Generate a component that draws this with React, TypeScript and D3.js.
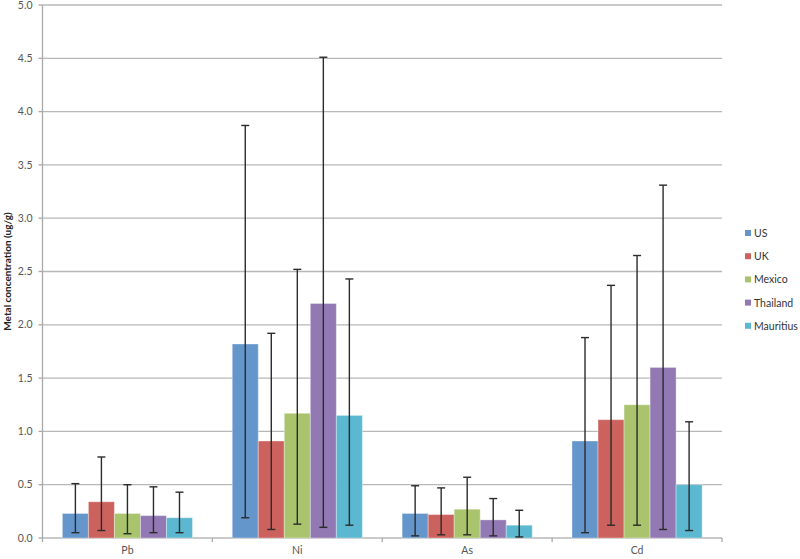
import React from 'react';
import { scaleBand, scaleLinear, range } from 'd3';

const metals = ['Pb', 'Ni', 'As', 'Cd'];
const countries = ['US', 'UK', 'Mexico', 'Thailand', 'Mauritius'];
const colors = ['#6496cb', '#cc625e', '#a9c46c', '#9279b3', '#5bb8d0'];

// mean values, one array per country, ordered like metals
const usValues = [0.23, 1.82, 0.23, 0.91];
const ukValues = [0.34, 0.91, 0.22, 1.11];
const mexicoValues = [0.23, 1.17, 0.27, 1.25];
const thailandValues = [0.21, 2.2, 0.17, 1.6];
const mauritiusValues = [0.19, 1.15, 0.12, 0.5];

// error bar ends (upper / lower)
const usUpper = [0.51, 3.87, 0.49, 1.88];
const usLower = [0.05, 0.19, 0.02, 0.05];
const ukUpper = [0.76, 1.92, 0.47, 2.37];
const ukLower = [0.07, 0.08, 0.03, 0.12];
const mexicoUpper = [0.5, 2.52, 0.57, 2.65];
const mexicoLower = [0.04, 0.13, 0.03, 0.12];
const thailandUpper = [0.48, 4.51, 0.37, 3.31];
const thailandLower = [0.05, 0.1, 0.02, 0.08];
const mauritiusUpper = [0.43, 2.43, 0.26, 1.09];
const mauritiusLower = [0.05, 0.12, 0.01, 0.07];

const values = [usValues, ukValues, mexicoValues, thailandValues, mauritiusValues];
const uppers = [usUpper, ukUpper, mexicoUpper, thailandUpper, mauritiusUpper];
const lowers = [usLower, ukLower, mexicoLower, thailandLower, mauritiusLower];

const yTicks = [0, 0.5, 1, 1.5, 2, 2.5, 3, 3.5, 4, 4.5, 5];

const App = () => {
    const width = 800;
    const height = 559;
    const margin = { top: 5, right: 78, bottom: 21, left: 42.5 };
    const plotRight = width - margin.right;
    const plotBottom = height - margin.bottom;

    const x = scaleBand<string>().domain(metals).range([margin.left, plotRight]);
    const inner = scaleBand<string>()
        .domain(countries)
        .range([x.bandwidth() * 0.117, x.bandwidth() * 0.883]);
    const y = scaleLinear().domain([0, 5]).range([plotBottom, margin.top]);

    const font = 'Lato, "Open Sans", sans-serif';

    return (
        <div style={{ position: 'absolute', left: 0, top: 0 }}>
            <svg width={width} height={height} style={{ display: 'block' }}>
                <rect width={width} height={height} fill="#fff" />
                {/* gridlines */}
                {yTicks.map((t) => (
                    <line key={'g' + t} x1={margin.left} x2={plotRight} y1={y(t)} y2={y(t)}
                        stroke="#b8b8b8" strokeWidth={1.3} />
                ))}
                {/* y axis */}
                <line x1={margin.left} x2={margin.left} y1={margin.top} y2={plotBottom} stroke="#a8a8a8" strokeWidth={1.3} />
                {yTicks.map((t) => (
                    <g key={'t' + t}>
                        <line x1={margin.left - 4} x2={margin.left} y1={y(t)} y2={y(t)} stroke="#a8a8a8" strokeWidth={1.3} />
                        <text x={margin.left - 10} y={y(t)} dy="0.35em" textAnchor="end" fontSize={10.5}
                            fill="#555" fontFamily={font}>{t.toFixed(1)}</text>
                    </g>
                ))}
                {/* x axis ticks */}
                {range(metals.length + 1).map((i) => (
                    <line key={'xt' + i} x1={margin.left + i * x.step()} x2={margin.left + i * x.step()}
                        y1={plotBottom} y2={plotBottom + 4} stroke="#a8a8a8" strokeWidth={1.3} />
                ))}
                {metals.map((m) => (
                    <text key={'xl' + m} x={(x(m) as number) + x.bandwidth() / 2} y={plotBottom + 16}
                        textAnchor="middle" fontSize={10.5} fill="#555" fontFamily={font}>{m}</text>
                ))}
                {/* bars */}
                {countries.map((c, ci) => (
                    <g key={'s' + c}>
                        {metals.map((m, mi) => {
                            const bx = (x(m) as number) + (inner(c) as number);
                            const v = values[ci][mi];
                            return (
                                <rect key={m} x={bx} y={y(v)} width={inner.bandwidth()} height={y(0) - y(v)}
                                    fill={colors[ci]} stroke="#ffffff" strokeOpacity={0.35} strokeWidth={1} />
                            );
                        })}
                    </g>
                ))}
                {/* error bars */}
                {countries.map((c, ci) => (
                    <g key={'e' + c} stroke="#2b2b2b" strokeWidth={1.4}>
                        {metals.map((m, mi) => {
                            const cx = (x(m) as number) + (inner(c) as number) + inner.bandwidth() / 2;
                            const hi = y(uppers[ci][mi]);
                            const lo = y(lowers[ci][mi]);
                            return (
                                <g key={m}>
                                    <line x1={cx} x2={cx} y1={hi} y2={lo} />
                                    <line x1={cx - 4} x2={cx + 4} y1={hi} y2={hi} />
                                    <line x1={cx - 4} x2={cx + 4} y1={lo} y2={lo} />
                                </g>
                            );
                        })}
                    </g>
                ))}
                {/* y title */}
                <text transform={`translate(11,${(margin.top + plotBottom) / 2}) rotate(-90)`} textAnchor="middle"
                    fontSize={10} fontWeight="bold" fill="#222" fontFamily={font}>Metal concentration (ug/g)</text>
                {/* legend */}
                {countries.map((c, ci) => (
                    <g key={'lg' + c} transform={`translate(745,${230 + ci * 23.2})`}>
                        <rect x={0} y={0} width={6} height={6} fill={colors[ci]} />
                        <text x={9} y={3} dy="0.38em" fontSize={10.5} fill="#333" fontFamily={font}>{c}</text>
                    </g>
                ))}
            </svg>
        </div>
    );
};

export default App;
